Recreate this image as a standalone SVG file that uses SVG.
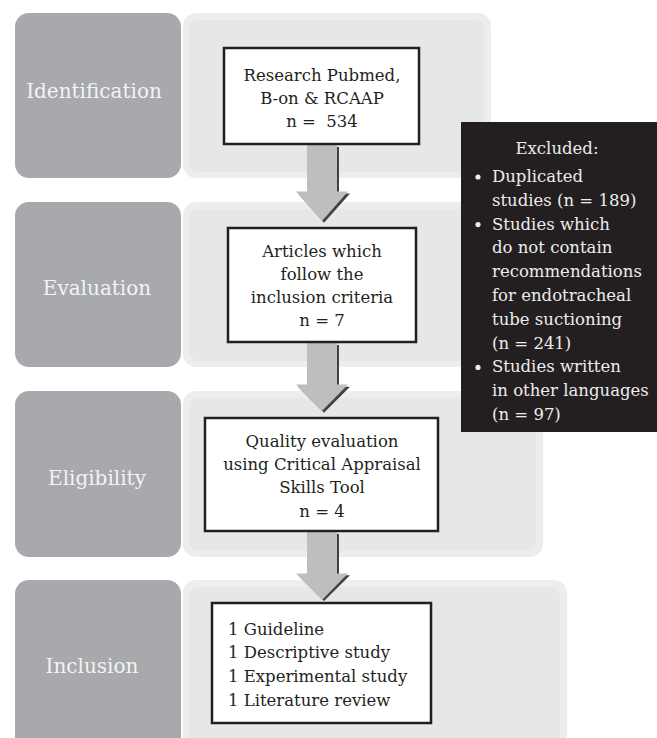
<svg xmlns="http://www.w3.org/2000/svg" width="657" height="738" viewBox="0 0 657 738">
<style>
.stage{fill:#a7a9ac}
.lbl{font-family:"DejaVu Serif","Liberation Serif",serif;font-size:20px;fill:#f3f3f3;text-anchor:middle}
.pout{fill:#ededee}
.pin{fill:#e6e7e8}
.box{fill:#ffffff;stroke:#231f20;stroke-width:2.5}
.t{font-family:"DejaVu Serif","Liberation Serif",serif;font-size:16.5px;fill:#231f20}
.c{text-anchor:middle}
.ex{font-family:"DejaVu Serif","Liberation Serif",serif;font-size:16.5px;fill:#ececec}
.arr{fill:#bcbec0}
.sh{fill:#414042}
</style>
<defs>
<polygon id="arrowShape" points="-15,0 15,0 15,48 26,48 0,78 -26,48 -15,48"/>
</defs>
<rect width="657" height="738" fill="#ffffff"/>

<g id="panels">
<rect class="pout" x="183" y="13" width="308" height="165" rx="13"/>
<rect class="pin" x="189" y="20" width="295" height="152" rx="9"/>
<rect class="pout" x="183" y="202" width="334" height="165" rx="13"/>
<rect class="pin" x="189" y="209" width="321" height="152" rx="9"/>
<rect class="pout" x="183" y="391" width="360" height="166" rx="13"/>
<rect class="pin" x="189" y="398" width="347" height="153" rx="9"/>
<rect class="pout" x="183" y="580" width="384" height="180" rx="13"/>
<rect class="pin" x="189" y="587" width="371" height="167" rx="9"/>
</g>

<g id="stage-identification">
<rect class="stage" x="15" y="13" width="166" height="165" rx="14"/>
<text class="lbl" x="94" y="98">Identification</text>
</g>
<g id="stage-evaluation">
<rect class="stage" x="15" y="202" width="166" height="165" rx="14"/>
<text class="lbl" x="97" y="295">Evaluation</text>
</g>
<g id="stage-eligibility">
<rect class="stage" x="15" y="391" width="166" height="166" rx="14"/>
<text class="lbl" x="97" y="485">Eligibility</text>
</g>
<g id="stage-inclusion">
<rect class="stage" x="15" y="580" width="166" height="180" rx="14"/>
<text class="lbl" x="92" y="673">Inclusion</text>
</g>

<g id="connectors">
<g transform="translate(324,147) scale(1,0.97)"><use href="#arrowShape" class="sh"/></g>
<g transform="translate(322,144) scale(1,0.9872)"><use href="#arrowShape" class="arr"/></g>
<g transform="translate(324,345) scale(1,0.87)"><use href="#arrowShape" class="sh"/></g>
<g transform="translate(322,342) scale(1,0.8846)"><use href="#arrowShape" class="arr"/></g>
<g transform="translate(324,534) scale(1,0.86)"><use href="#arrowShape" class="sh"/></g>
<g transform="translate(322,531) scale(1,0.8846)"><use href="#arrowShape" class="arr"/></g>
</g>

<g id="node-search">
<rect class="box" x="224" y="48" width="195" height="96"/>
<text class="t c" x="322" y="81">Research Pubmed,</text>
<text class="t c" x="322" y="104">B-on &amp; RCAAP</text>
<text class="t c" x="322" y="127" xml:space="preserve">n =  534</text>
</g>
<g id="node-articles">
<rect class="box" x="228" y="228" width="188" height="114"/>
<text class="t c" x="322" y="257">Articles which</text>
<text class="t c" x="322" y="280">follow the</text>
<text class="t c" x="322" y="303">inclusion criteria</text>
<text class="t c" x="322" y="326">n = 7</text>
</g>
<g id="node-quality">
<rect class="box" x="205" y="418" width="233" height="113"/>
<text class="t c" x="322" y="447">Quality evaluation</text>
<text class="t c" x="322" y="470">using Critical Appraisal</text>
<text class="t c" x="322" y="493">Skills Tool</text>
<text class="t c" x="322" y="517">n = 4</text>
</g>
<g id="node-included">
<rect class="box" x="212" y="603" width="219" height="120"/>
<text class="t" x="228" y="635">1 Guideline</text>
<text class="t" x="228" y="658">1 Descriptive study</text>
<text class="t" x="228" y="682">1 Experimental study</text>
<text class="t" x="228" y="706">1 Literature review</text>
</g>

<g id="node-excluded">
<rect x="461" y="122" width="196" height="310" fill="#231f20"/>
<text class="ex" x="557" y="154" text-anchor="middle">Excluded:</text>
<circle cx="478" cy="177" r="2.6" fill="#ececec"/>
<circle cx="478" cy="224.6" r="2.6" fill="#ececec"/>
<circle cx="478" cy="367.4" r="2.6" fill="#ececec"/>
<text class="ex" x="492" y="182">Duplicated</text>
<text class="ex" x="492" y="205.8">studies (n = 189)</text>
<text class="ex" x="492" y="229.6">Studies which</text>
<text class="ex" x="492" y="253.4">do not contain</text>
<text class="ex" x="492" y="277.2">recommendations</text>
<text class="ex" x="492" y="301">for endotracheal</text>
<text class="ex" x="492" y="324.8">tube suctioning</text>
<text class="ex" x="492" y="348.6">(n = 241)</text>
<text class="ex" x="492" y="372.4">Studies written</text>
<text class="ex" x="492" y="396.2">in other languages</text>
<text class="ex" x="492" y="420">(n = 97)</text>
</g>
</svg>
